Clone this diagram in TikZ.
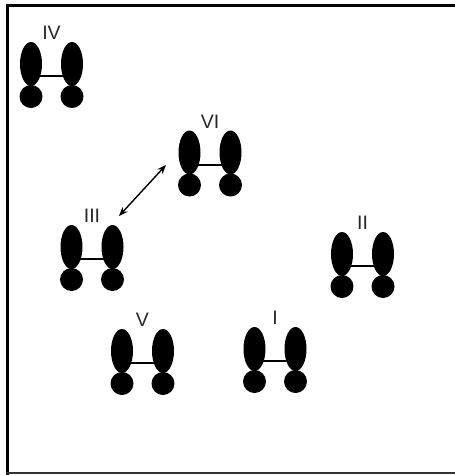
\documentclass[tikz,border=0pt]{standalone}
\usepackage{fontspec}
\setmainfont{Liberation Sans}
\usetikzlibrary{shapes.geometric,arrows.meta}
\tikzset{
  lobe/.style={ellipse,fill=black,inner sep=0pt,minimum width=22pt,minimum height=44pt},
  ball/.style={circle,fill=black,inner sep=0pt,minimum size=23pt},
  bond/.style={line width=2pt},
  lbl/.style={font=\fontsize{19.5}{19.5}\selectfont,text=black!85,inner sep=0pt},
  link/.style={line width=1.4pt,{Stealth[length=9pt,width=7pt]}-{Stealth[length=9pt,width=7pt]}},
  frameline/.style={line width=3pt}
}
\newcommand{\molec}[4]{%
  \node[lobe] (#1l) at (#2-20.5,#3) {};
  \node[lobe] (#1r) at (#2+20.5,#3) {};
  \node[ball] (#1lb) at (#2-20.5,#3+32.5) {};
  \node[ball] (#1rb) at (#2+20.5,#3+32.5) {};
  \draw[bond] ([yshift=-12pt]#1l.center) -- ([yshift=-12pt]#1r.center);
  \node[lbl] (#1t) at (#2,#3-31) {#4};
}
\begin{document}
\begin{tikzpicture}[x=1pt,y=-1pt]
  \useasboundingbox (0,0) rectangle (455,475);
  \fill[white] (0,0) rectangle (455,475);
  \draw[frameline] (455,5.5) -- (7.5,5.5) -- (7.5,474.5);
  \draw[line width=2pt,black!80] (6,473) -- (455,473);
  \molec{m4}{51.5}{64}{IV}
  \molec{m6}{210}{152.5}{VI}
  \molec{m3}{92}{247}{III}
  \molec{m2}{362.5}{254}{II}
  \molec{m5}{142.5}{351}{V}
  \molec{m1}{275}{349}{I}
  \coordinate (a1) at (119,216);
  \coordinate (a2) at (166,165);
  \draw[link] (a1) -- (a2);
\end{tikzpicture}
\end{document}
